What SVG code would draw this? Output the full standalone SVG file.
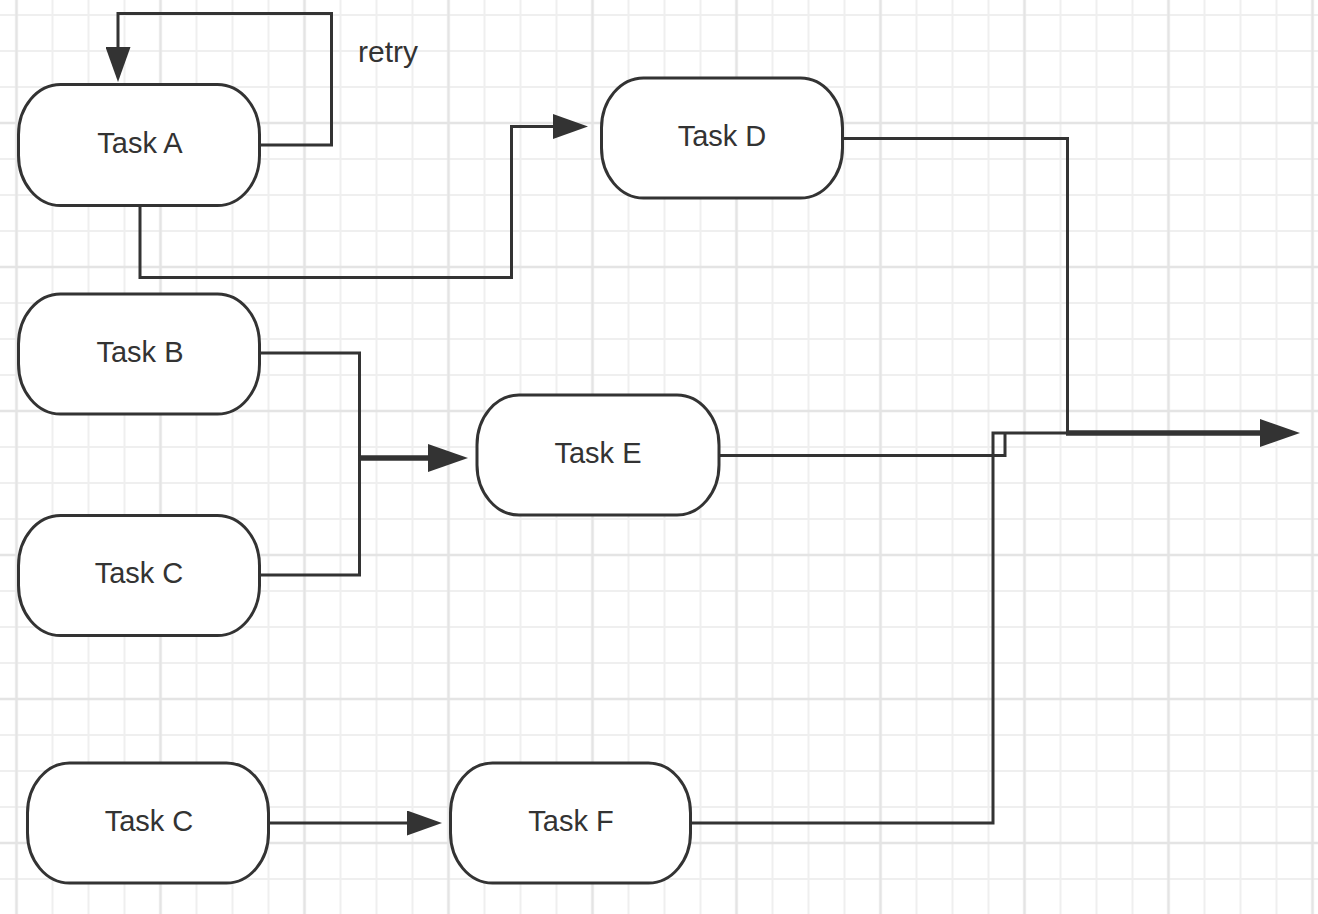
<svg xmlns="http://www.w3.org/2000/svg" width="1318" height="914" viewBox="0 0 1318 914">
<style>
.node rect{fill:#fff;stroke:#333;stroke-width:3}
.node text{font-family:"Liberation Sans",Arial,sans-serif;font-size:29px;fill:#333;text-anchor:middle}
.lbl{font-family:"Liberation Sans",Arial,sans-serif;font-size:30px;fill:#333}
.c{fill:none;stroke:#333;stroke-width:3;stroke-linejoin:miter}
.thick{stroke-width:5.5}
</style>
<defs>
<pattern id="gMinor" patternUnits="userSpaceOnUse" x="-1.5" y="-3" width="36" height="36">
<path d="M18,0V36M0,18H36" stroke="#efefef" stroke-width="2" fill="none"/>
</pattern>
<pattern id="gMajor" patternUnits="userSpaceOnUse" x="-55.5" y="51" width="144" height="144">
<path d="M72,0V144M0,72H144" stroke="#e4e4e4" stroke-width="2.5" fill="none"/>
</pattern>
<marker id="arr" markerUnits="userSpaceOnUse" viewBox="0 0 35 25" markerWidth="35" markerHeight="25" refX="0" refY="12.5" orient="auto">
<path d="M0,0L35,12.5L0,25Z" fill="#333"/>
</marker>
<marker id="arrBig" markerUnits="userSpaceOnUse" viewBox="0 0 40 28" markerWidth="40" markerHeight="28" refX="0" refY="14" orient="auto">
<path d="M0,0L40,14L0,28Z" fill="#333"/>
</marker>
</defs>
<rect width="1318" height="914" fill="#fff"/>
<rect width="1318" height="914" fill="url(#gMinor)"/>
<rect width="1318" height="914" fill="url(#gMajor)"/>

<g id="connectors">
<path class="c" d="M260,145H331.5V13.5H118V47" marker-end="url(#arr)"/>
<path class="c" d="M140,206V277.5H511.5V126.5H553" marker-end="url(#arr)"/>
<path class="c" d="M260,353H359.5V458"/>
<path class="c" d="M260,575H359.5V458"/>
<path class="c thick" d="M358,458H428" marker-end="url(#arrBig)"/>
<path class="c" d="M269,823H407" marker-end="url(#arr)"/>
<path class="c" d="M843,138.5H1067.5V433"/>
<path class="c" d="M719,455.5H1005V433"/>
<path class="c" d="M691,823H993V433H1068"/>
<path class="c thick" d="M1066,433H1260" marker-end="url(#arrBig)"/>
</g>
<text class="lbl" x="358" y="62">retry</text>

<g id="taskA" class="node"><rect x="18.5" y="84.5" width="241" height="121" rx="42" ry="50"/><text x="140" y="153">Task A</text></g>
<g id="taskD" class="node"><rect x="601.5" y="78" width="241" height="120" rx="42" ry="50"/><text x="722" y="146">Task D</text></g>
<g id="taskB" class="node"><rect x="18.5" y="294" width="241" height="120" rx="42" ry="50"/><text x="140" y="362">Task B</text></g>
<g id="taskE" class="node"><rect x="477" y="395" width="242" height="120" rx="42" ry="50"/><text x="598" y="463">Task E</text></g>
<g id="taskC1" class="node"><rect x="18.5" y="515.5" width="241" height="120" rx="42" ry="50"/><text x="139" y="583">Task C</text></g>
<g id="taskC2" class="node"><rect x="27.5" y="763" width="241" height="120" rx="42" ry="50"/><text x="149" y="831">Task C</text></g>
<g id="taskF" class="node"><rect x="450.5" y="763" width="240" height="120" rx="42" ry="50"/><text x="571" y="831">Task F</text></g>
</svg>
